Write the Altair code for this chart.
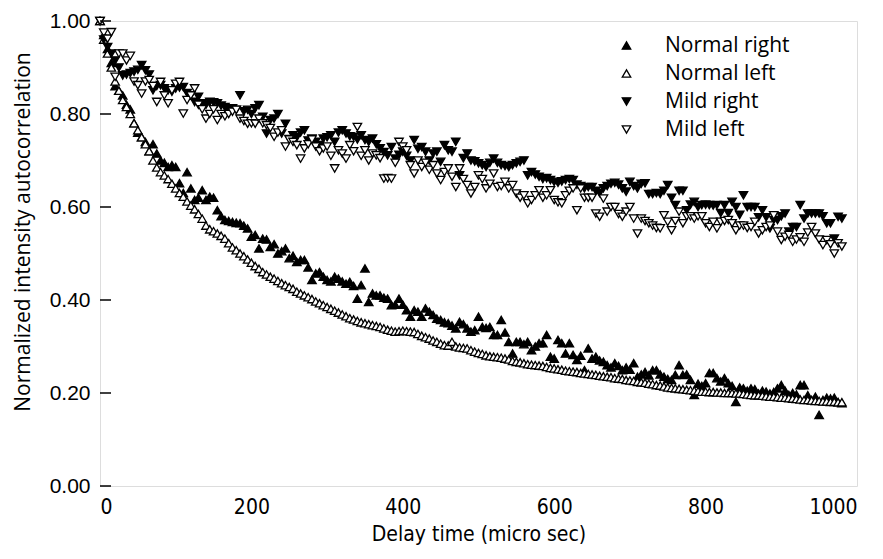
import altair as alt
import pandas as pd

# Delay times (micro sec) of the samples
delay_us = list(range(0, 985, 5))

series_names = ["Normal right", "Normal left", "Mild right", "Mild left"]

normal_right = [
    1.00, 0.97, 0.94, 0.91, 0.86, 0.85, 0.84, 0.82, 0.81, 0.78, 0.76, 0.75, 0.74, 0.72, 0.735, 0.715, 0.70, 0.695, 0.686, 0.69,
    0.686, 0.651, 0.63, 0.675, 0.64, 0.615, 0.62, 0.636, 0.615, 0.622, 0.62, 0.593, 0.58, 0.572, 0.57, 0.568, 0.566, 0.565, 0.56, 0.554,
    0.536, 0.54, 0.511, 0.532, 0.53, 0.514, 0.52, 0.50, 0.505, 0.511, 0.49, 0.495, 0.482, 0.486, 0.486, 0.47, 0.443, 0.457, 0.46, 0.45,
    0.443, 0.44, 0.45, 0.446, 0.44, 0.435, 0.439, 0.43, 0.403, 0.432, 0.468, 0.396, 0.414, 0.41, 0.41, 0.405, 0.403, 0.389, 0.39, 0.403,
    0.39, 0.378, 0.364, 0.378, 0.375, 0.364, 0.382, 0.375, 0.368, 0.36, 0.357, 0.352, 0.35, 0.345, 0.339, 0.353, 0.348, 0.339, 0.332, 0.335,
    0.364, 0.342, 0.34, 0.342, 0.325, 0.325, 0.357, 0.33, 0.31, 0.285, 0.31, 0.31, 0.305, 0.31, 0.292, 0.30, 0.307, 0.307, 0.325, 0.278,
    0.274, 0.314, 0.307, 0.285, 0.307, 0.282, 0.271, 0.28, 0.249, 0.296, 0.274, 0.278, 0.27, 0.267, 0.26, 0.255, 0.264, 0.258, 0.249, 0.255,
    0.25, 0.264, 0.235, 0.24, 0.245, 0.238, 0.249, 0.249, 0.24, 0.235, 0.23, 0.228, 0.239, 0.26, 0.239, 0.24, 0.228, 0.196, 0.22, 0.215,
    0.221, 0.243, 0.243, 0.232, 0.225, 0.232, 0.221, 0.215, 0.181, 0.212, 0.21, 0.205, 0.21, 0.208, 0.199, 0.205, 0.203, 0.199, 0.202, 0.21,
    0.217, 0.205, 0.196, 0.2, 0.197, 0.217, 0.217, 0.195, 0.185, 0.192, 0.153, 0.185, 0.19, 0.188, 0.19, 0.18, 0.178,
]

normal_left = [
    1.00, 0.96, 0.93, 0.90, 0.87, 0.85, 0.83, 0.815, 0.80, 0.78, 0.765, 0.75, 0.735, 0.72, 0.70, 0.685, 0.675, 0.668, 0.66, 0.65,
    0.64, 0.63, 0.622, 0.612, 0.603, 0.595, 0.585, 0.575, 0.56, 0.552, 0.548, 0.543, 0.538, 0.532, 0.522, 0.513, 0.507, 0.50, 0.494, 0.487,
    0.48, 0.473, 0.467, 0.46, 0.455, 0.45, 0.446, 0.441, 0.436, 0.432, 0.428, 0.424, 0.418, 0.414, 0.41, 0.406, 0.402, 0.397, 0.393, 0.389,
    0.385, 0.381, 0.377, 0.373, 0.369, 0.365, 0.361, 0.358, 0.355, 0.352, 0.35, 0.348, 0.346, 0.344, 0.342, 0.339, 0.336, 0.334, 0.332, 0.333,
    0.334, 0.333, 0.332, 0.331, 0.327, 0.323, 0.32, 0.317, 0.313, 0.31, 0.306, 0.303, 0.302, 0.31, 0.30, 0.298, 0.297, 0.296, 0.292, 0.289,
    0.286, 0.284, 0.281, 0.279, 0.278, 0.277, 0.276, 0.274, 0.272, 0.269, 0.267, 0.266, 0.264, 0.262, 0.261, 0.26, 0.259, 0.258, 0.256, 0.254,
    0.253, 0.251, 0.25, 0.248, 0.247, 0.246, 0.245, 0.243, 0.242, 0.241, 0.24, 0.239, 0.237, 0.236, 0.235, 0.234, 0.232, 0.231, 0.23, 0.228,
    0.227, 0.226, 0.224, 0.223, 0.222, 0.22, 0.219, 0.217, 0.216, 0.214, 0.212, 0.211, 0.21, 0.209, 0.208, 0.207, 0.206, 0.205, 0.204, 0.203,
    0.203, 0.202, 0.202, 0.201, 0.201, 0.2, 0.2, 0.2, 0.199, 0.199, 0.198, 0.197, 0.196, 0.195, 0.195, 0.194, 0.193, 0.192, 0.192, 0.191,
    0.19, 0.19, 0.189, 0.188, 0.187, 0.186, 0.185, 0.185, 0.184, 0.183, 0.183, 0.182, 0.182, 0.181, 0.181, 0.18, 0.18,
]

mild_right = [
    1.00, 0.96, 0.944, 0.93, 0.915, 0.90, 0.883, 0.885, 0.888, 0.891, 0.895, 0.905, 0.894, 0.885, 0.851, 0.86, 0.862, 0.855, 0.851, 0.848,
    0.855, 0.857, 0.858, 0.845, 0.84, 0.826, 0.837, 0.823, 0.82, 0.826, 0.825, 0.823, 0.818, 0.815, 0.81, 0.812, 0.809, 0.84, 0.806, 0.809,
    0.80, 0.812, 0.819, 0.794, 0.758, 0.787, 0.79, 0.80, 0.758, 0.779, 0.746, 0.754, 0.75, 0.76, 0.765, 0.743, 0.747, 0.74, 0.733, 0.747,
    0.75, 0.754, 0.74, 0.76, 0.765, 0.758, 0.752, 0.751, 0.745, 0.754, 0.744, 0.74, 0.747, 0.735, 0.726, 0.718, 0.711, 0.729, 0.704, 0.712,
    0.719, 0.71, 0.70, 0.744, 0.725, 0.729, 0.719, 0.70, 0.715, 0.719, 0.697, 0.733, 0.722, 0.719, 0.74, 0.668, 0.705, 0.715, 0.70, 0.698,
    0.694, 0.69, 0.686, 0.695, 0.704, 0.695, 0.69, 0.688, 0.686, 0.69, 0.694, 0.697, 0.70, 0.668, 0.675, 0.67, 0.665, 0.66, 0.662, 0.658,
    0.654, 0.652, 0.655, 0.658, 0.66, 0.658, 0.648, 0.645, 0.64, 0.643, 0.643, 0.635, 0.63, 0.64, 0.645, 0.65, 0.652, 0.648, 0.64, 0.633,
    0.654, 0.645, 0.64, 0.65, 0.651, 0.628, 0.628, 0.63, 0.628, 0.635, 0.647, 0.62, 0.604, 0.635, 0.635, 0.593, 0.605, 0.611, 0.60, 0.604,
    0.605, 0.604, 0.603, 0.604, 0.587, 0.604, 0.587, 0.611, 0.60, 0.583, 0.625, 0.60, 0.60, 0.60, 0.578, 0.593, 0.578, 0.554, 0.572, 0.572,
    0.58, 0.586, 0.547, 0.557, 0.557, 0.604, 0.575, 0.586, 0.586, 0.586, 0.586, 0.58, 0.565, 0.565, 0.532, 0.579, 0.575,
]

mild_left = [
    1.00, 0.975, 0.962, 0.976, 0.88, 0.93, 0.93, 0.915, 0.925, 0.87, 0.862, 0.844, 0.87, 0.873, 0.86, 0.826, 0.869, 0.84, 0.823, 0.851,
    0.865, 0.869, 0.801, 0.83, 0.84, 0.855, 0.82, 0.81, 0.79, 0.80, 0.81, 0.787, 0.80, 0.795, 0.80, 0.805, 0.809, 0.79, 0.785, 0.779,
    0.78, 0.779, 0.79, 0.78, 0.776, 0.77, 0.751, 0.76, 0.765, 0.73, 0.745, 0.74, 0.733, 0.704, 0.726, 0.735, 0.745, 0.73, 0.72, 0.726,
    0.73, 0.71, 0.683, 0.722, 0.715, 0.704, 0.733, 0.72, 0.772, 0.71, 0.722, 0.70, 0.715, 0.711, 0.705, 0.661, 0.662, 0.661, 0.695, 0.74,
    0.73, 0.722, 0.69, 0.672, 0.70, 0.686, 0.695, 0.68, 0.69, 0.672, 0.658, 0.675, 0.683, 0.665, 0.643, 0.683, 0.66, 0.647, 0.629, 0.643,
    0.668, 0.66, 0.64, 0.65, 0.672, 0.643, 0.645, 0.654, 0.64, 0.647, 0.629, 0.62, 0.625, 0.608, 0.615, 0.625, 0.636, 0.62, 0.625, 0.636,
    0.615, 0.61, 0.608, 0.625, 0.635, 0.64, 0.593, 0.64, 0.62, 0.62, 0.62, 0.586, 0.579, 0.618, 0.59, 0.60, 0.60, 0.585, 0.579, 0.59,
    0.60, 0.575, 0.543, 0.575, 0.57, 0.565, 0.56, 0.555, 0.554, 0.582, 0.568, 0.55, 0.57, 0.59, 0.565, 0.58, 0.58, 0.575, 0.58, 0.58,
    0.565, 0.557, 0.568, 0.554, 0.568, 0.57, 0.572, 0.565, 0.55, 0.56, 0.56, 0.555, 0.557, 0.568, 0.543, 0.55, 0.557, 0.56, 0.582, 0.547,
    0.529, 0.536, 0.54, 0.525, 0.53, 0.535, 0.525, 0.545, 0.557, 0.543, 0.53, 0.518, 0.529, 0.52, 0.50, 0.522, 0.515,
]

x_ticks = [0, 200, 400, 600, 800, 1000]
y_ticks = [0.0, 0.2, 0.4, 0.6, 0.8, 1.0]

series_values = [normal_right, normal_left, mild_right, mild_left]
for vals in series_values:
    assert len(vals) == len(delay_us), len(vals)

rows = []
for name, vals in zip(series_names, series_values):
    for t, v in zip(delay_us, vals):
        rows.append({"delay": t, "value": v, "series": name})
df = pd.DataFrame(rows)

W, H = 757, 465
COND = "DejaVu Sans Condensed, Roboto Condensed, Liberation Sans Narrow, Liberation Sans, sans-serif"

x_scale = alt.Scale(domain=[0, 1000], nice=False, zero=False)
y_scale = alt.Scale(domain=[0, 1], nice=False)

legend_cfg = dict(
    title=None, orient="none", legendX=516, legendY=14,
    labelFont="Open Sans", labelFontSize=21, labelColor="black",
    symbolStrokeWidth=1.3, symbolSize=72,
    labelOffset=28, rowPadding=6,
)

points = alt.Chart(df).mark_point(
    filled=True, strokeWidth=1.3, size=72, opacity=1
).encode(
    x=alt.X("delay:Q", scale=x_scale, axis=alt.Axis(
        values=x_ticks, format="d", title="Delay time (micro sec)", domain=False,
        ticks=False, tickSize=0, grid=False,
        labelFont=COND, labelFontSize=21, labelColor="black",
        labelPadding=10, titleFont=COND, titleFontSize=21,
        titleFontWeight="normal", titleColor="black", titlePadding=6)),
    y=alt.Y("value:Q", scale=y_scale, axis=alt.Axis(
        values=y_ticks, format=".2f", title="Normalized intensity autocorrelation",
        domain=False, ticks=False, tickSize=0, grid=False,
        labelFont="Liberation Sans", labelFontSize=21, labelColor="black", labelPadding=10,
        titleFont="Open Sans", titleFontSize=21, titleFontWeight="normal",
        titleColor="black", titlePadding=16, titleY=H / 2 - 22)),
    shape=alt.Shape("series:N", scale=alt.Scale(
        domain=series_names,
        range=["triangle-up", "triangle-up", "triangle-down", "triangle-down"]),
        legend=alt.Legend(**legend_cfg)),
    fill=alt.Fill("series:N", scale=alt.Scale(
        domain=series_names, range=["black", "white", "black", "white"]),
        legend=alt.Legend(**legend_cfg)),
    stroke=alt.Stroke("series:N", scale=alt.Scale(
        domain=series_names, range=["black", "black", "black", "black"]),
        legend=alt.Legend(**legend_cfg)),
)

ytick_df = pd.DataFrame({"value": y_ticks})

yticks = alt.Chart(ytick_df).mark_rule(color="black", strokeWidth=1.5).encode(
    y=alt.Y("value:Q", scale=y_scale), x=alt.value(0), x2=alt.value(11))

chart = alt.layer(points, yticks).properties(
    width=W, height=H,
    autosize=alt.AutoSizeParams(type="none"),
    padding={"left": 92, "top": 13, "right": 18, "bottom": 65},
).configure_view(
    stroke="black", strokeWidth=1.5
).configure(background="white")

chart.save("out.html", embed_options={"renderer": "svg", "actions": False})
